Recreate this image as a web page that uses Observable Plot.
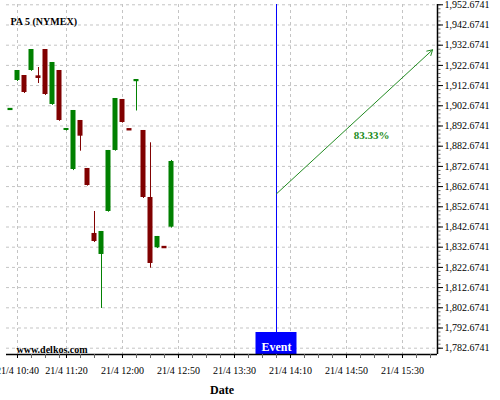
<!DOCTYPE html>
<html><head><meta charset="utf-8">
<script src="https://cdn.jsdelivr.net/npm/d3@7"></script>
<script src="https://cdn.jsdelivr.net/npm/@observablehq/plot@0.6"></script>
<style>body{margin:0;background:#fff;}</style>
</head><body><div id="chart"></div>
<script>
// Bar index (slot) of each candle
const barIndex = [0,1,2,3,4,5,6,7,8,9,10,11,12,13,14,15,16,17,18,19,20,21,22,23];
const open  = [1900.8,1915.2,1917.67,1920.15,1917.0,1930.54,1903.32,1920.15,1890.45,1871.14,1895.4,1871.64,1839.47,1829.07,1850.35,1880.55,1905.8,1890.9,1915.1,1890.45,1857.28,1832.38,1832.6,1842.58];
const high  = [1900.9,1920.15,1917.67,1930.54,1921.63,1930.54,1924.11,1920.15,1891.44,1900.35,1895.4,1871.64,1850.35,1840.45,1880.55,1906.29,1905.8,1890.9,1915.2,1890.45,1884.36,1837.98,1832.6,1875.6];
const low   = [1900.8,1914.7,1908.77,1919.7,1913.71,1907.8,1902.9,1895.0,1890.2,1870.6,1880.2,1862.9,1835.0,1802.34,1850.0,1880.2,1894.1,1890.7,1900.1,1856.8,1822.29,1832.0,1832.4,1842.1];
const close = [1900.9,1920.15,1909.26,1930.54,1916.7,1908.27,1924.11,1895.4,1891.44,1900.35,1887.63,1863.22,1835.5,1840.45,1880.55,1906.29,1894.41,1890.7,1915.2,1857.28,1824.61,1837.98,1832.4,1875.1];

const xTickIndex  = [1, 8, 16, 24, 32, 40, 48, 56];
const xTickLabels = ["21/4 10:40","21/4 11:20","21/4 12:00","21/4 12:50","21/4 13:30","21/4 14:10","21/4 14:50","21/4 15:30"];
const yTicks = [1782.6741,1792.6741,1802.6741,1812.6741,1822.6741,1832.6741,1842.6741,1852.6741,1862.6741,1872.6741,1882.6741,1892.6741,1902.6741,1912.6741,1922.6741,1932.6741,1942.6741,1952.6741];

const eventIndex = [38];
const eventLabel = ["Event"];
const arrowStart = [38, 1859.1];
const arrowEnd   = [60.3, 1930.4];
const changeLabel = ["83.33%"];
const title = ["PA 5 (NYMEX)"];
const watermark = ["www.delkos.com"];
const xTitle = ["Date"];

const xDomain = [-0.5714, 61.0];
const yDomain = [1779.55, 1952.82];

const GREEN = "#008000", RED = "#800000", ARROW = "#228b22", GRID = "#c4c4c4";

const candles = barIndex.map((i, k) => ({i, open: open[k], high: high[k], low: low[k], close: close[k]}));
const col = d => d.close >= d.open ? GREEN : RED;
const flat = candles.filter(d => Math.abs(d.close - d.open) < 0.5);
const solid = candles.filter(d => Math.abs(d.close - d.open) >= 0.5);
const labelMap = new Map(xTickIndex.map((d, k) => [d, xTickLabels[k]]));
const xMinor = [1, 3, 5, 7, ...d3.range(8, 61, 2)];
const yMinor = d3.range(0, 86).map(k => yTicks[0] + 2 * k).filter(v => v <= yDomain[1]);
const arrow = [{x1: arrowStart[0], y1: arrowStart[1], x2: arrowEnd[0], y2: arrowEnd[1]}];

const chart = Plot.plot({
  width: 500,
  height: 400,
  marginLeft: 6,
  marginRight: 63,
  marginTop: 4,
  marginBottom: 46,
  style: {fontFamily: "'Liberation Serif', 'Times New Roman', serif", fontSize: "10px", background: "white", color: "black"},
  x: {domain: xDomain, label: null},
  y: {domain: yDomain, label: null},
  marks: [
    Plot.ruleX(xTickIndex, {stroke: GRID, strokeDasharray: "3,3"}),
    Plot.ruleY(yTicks, {stroke: GRID, strokeDasharray: "3,3"}),
    Plot.ruleX(candles, {x: "i", y1: "low", y2: "high", stroke: col}),
    Plot.rect(solid, {x1: d => d.i - 0.357, x2: d => d.i + 0.357, y1: "open", y2: "close", fill: col}),
    Plot.rect(flat, {x1: d => d.i - 0.357, x2: d => d.i + 0.357, y1: "open", y2: "close", fill: col, insetTop: -1, insetBottom: -1}),
    Plot.ruleX(eventIndex, {stroke: "blue"}),
    Plot.rect(eventIndex, {x1: d => d, x2: d => d, insetLeft: -20.5, insetRight: -20.5, insetTop: 328, fill: "blue"}),
    Plot.text(eventIndex, {x: d => d, text: (d, k) => eventLabel[k], frameAnchor: "bottom", lineAnchor: "middle", dy: -7, fill: "white", fontWeight: "bold", fontSize: 12}),
    Plot.arrow(arrow, {x1: "x1", y1: "y1", x2: "x2", y2: "y2", stroke: ARROW, strokeWidth: 1, headLength: 9}),
    Plot.text(arrow, {x: d => (d.x1 + d.x2) / 2, y: d => (d.y1 + d.y2) / 2, text: () => changeLabel[0], dx: 17, dy: 14, fill: ARROW, fontWeight: "bold", fontSize: 11}),
    Plot.text(title, {frameAnchor: "top-left", textAnchor: "start", lineAnchor: "middle", dx: 4, dy: 17, fontWeight: "bold", fontSize: 10}),
    Plot.text(watermark, {frameAnchor: "bottom-left", textAnchor: "start", lineAnchor: "middle", dx: 10, dy: -5, fontWeight: "bold", fontSize: 10}),
    Plot.text(xTitle, {frameAnchor: "bottom", lineAnchor: "middle", dy: 36, fontWeight: "bold", fontSize: 12}),
    Plot.ruleY([yDomain[0]], {stroke: "black", strokeWidth: 1.5}),
    Plot.ruleX([xDomain[1]], {stroke: "black", strokeWidth: 1.5}),
    Plot.axisX(xMinor, {tickSize: 4, tickFormat: () => "", stroke: "#666"}),
    Plot.axisX(xTickIndex, {tickSize: 4, tickPadding: 8, tickFormat: d => labelMap.get(d), fontSize: 10}),
    Plot.axisY(yMinor, {anchor: "right", tickSize: 2.5, tickFormat: () => "", stroke: "#666"}),
    Plot.axisY(yTicks, {anchor: "right", tickSize: 5, tickPadding: 2, tickFormat: d3.format(",.4f"), fontSize: 10})
  ]
});
document.getElementById("chart").appendChild(chart);
</script>
</body></html>
